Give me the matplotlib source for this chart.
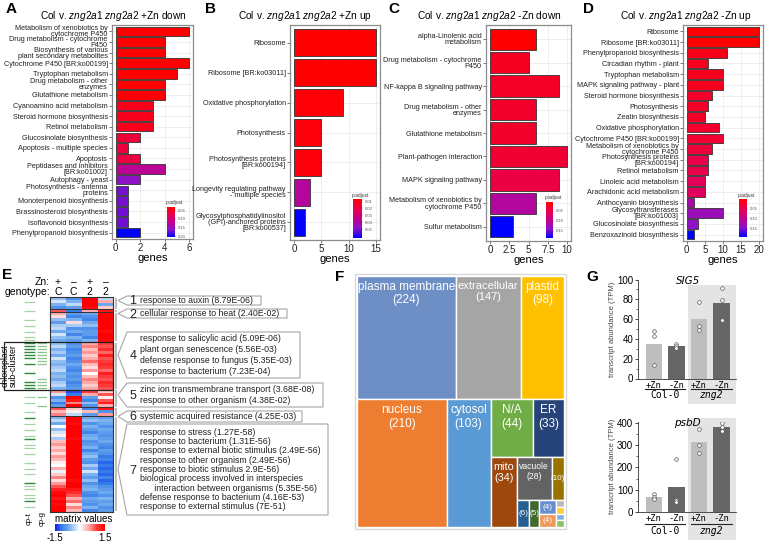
import numpy as np
import matplotlib
matplotlib.use('Agg')
import matplotlib.pyplot as plt
from matplotlib.colors import LinearSegmentedColormap, Normalize
from matplotlib.patches import Rectangle, Polygon
from matplotlib.colorbar import ColorbarBase
from matplotlib.ticker import MultipleLocator

plt.rcParams['font.family'] = ['Liberation Sans', 'DejaVu Sans']
plt.rcParams['mathtext.fontset'] = 'custom'
plt.rcParams['mathtext.rm'] = 'Liberation Sans'
plt.rcParams['mathtext.it'] = 'Liberation Sans:italic'

# ---------------- data: KEGG enrichment (A-D) ----------------
A_labels = ['Metabolism of xenobiotics by\ncytochrome P450', 'Drug metabolism - cytochrome\nP450',
            'Biosynthesis of various\nplant secondary metabolites', 'Cytochrome P450 [BR:ko00199]',
            'Tryptophan metabolism', 'Drug metabolism - other\nenzymes', 'Glutathione metabolism',
            'Cyanoamino acid metabolism', 'Steroid hormone biosynthesis', 'Retinol metabolism',
            'Glucosinolate biosynthesis', 'Apoptosis - multiple species', 'Apoptosis',
            'Peptidases and inhibitors\n[BR:ko01002]', 'Autophagy - yeast',
            'Photosynthesis - antenna\nproteins', 'Monoterpenoid biosynthesis',
            'Brassinosteroid biosynthesis', 'Isoflavonoid biosynthesis', 'Phenylpropanoid biosynthesis']
A_genes = [6, 4, 4, 6, 5, 4, 4, 3, 3, 3, 2, 1, 2, 4, 2, 1, 1, 1, 1, 2]
A_padj = [0.030, 0.030, 0.030, 0.030, 0.031, 0.032, 0.032, 0.045, 0.046, 0.046,
          0.062, 0.066, 0.066, 0.125, 0.160, 0.168, 0.168, 0.170, 0.170, 0.205]

B_labels = ['Ribosome', 'Ribosome [BR:ko03011]', 'Oxidative phosphorylation', 'Photosynthesis',
            'Photosynthesis proteins\n[BR:ko00194]', 'Longevity regulating pathway\n- multiple species',
            'Glycosylphosphatidylinositol\n(GPI)-anchored proteins\n[BR:ko00537]']
B_genes = [15, 15, 9, 5, 5, 3, 2]
B_padj = [0.007, 0.007, 0.008, 0.009, 0.009, 0.038, 0.062]

C_labels = ['alpha-Linolenic acid\nmetabolism', 'Drug metabolism - cytochrome\nP450',
            'NF-kappa B signaling pathway', 'Drug metabolism - other\nenzymes', 'Glutathione metabolism',
            'Plant-pathogen interaction', 'MAPK signaling pathway',
            'Metabolism of xenobiotics by\ncytochrome P450', 'Sulfur metabolism']
C_genes = [6, 5, 9, 6, 6, 10, 9, 6, 3]
C_padj = [0.006, 0.025, 0.028, 0.030, 0.030, 0.035, 0.045, 0.110, 0.186]

D_labels = ['Ribosome', 'Ribosome [BR:ko03011]', 'Phenylpropanoid biosynthesis', 'Circadian rhythm - plant',
            'Tryptophan metabolism', 'MAPK signaling pathway - plant', 'Steroid hormone biosynthesis',
            'Photosynthesis', 'Zeatin biosynthesis', 'Oxidative phosphorylation',
            'Cytochrome P450 [BR:ko00199]', 'Metabolism of xenobiotics by\ncytochrome P450',
            'Photosynthesis proteins\n[BR:ko00194]', 'Retinol metabolism', 'Linoleic acid metabolism',
            'Arachidonic acid metabolism', 'Anthocyanin biosynthesis', 'Glycosyltransferases\n[BR:ko01003]',
            'Glucosinolate biosynthesis', 'Benzoxazinoid biosynthesis']
D_genes = [20, 20, 11, 6, 10, 10, 7, 6, 5, 9, 10, 7, 6, 6, 5, 5, 2, 10, 3, 2]
D_padj = [0.0, 0.0, 0.015, 0.020, 0.020, 0.020, 0.025, 0.025, 0.025, 0.028,
          0.030, 0.035, 0.045, 0.045, 0.055, 0.060, 0.120, 0.130, 0.140, 0.190]

# ---------------- data: heatmap clusters (E) ----------------
clust1 = [[-0.5, -0.9, 1.5, -0.3], [-0.2, -0.6, 1.5, 0.5], [-0.6, -0.3, 1.5, -0.7], [-0.9, -0.8, 1.4, 0.3]]
clust2 = [[0.9, -1.1, 0.5, 1.3]]
clust3 = [[0.5, -0.8, -0.7, 1.5], [0.2, -1.0, -0.9, 1.5], [-0.5, -0.6, -1.0, 1.5], [-0.8, 0.2, -0.7, 1.5],
          [-0.4, -0.4, -0.5, 1.5], [-0.3, -0.9, -0.9, 1.5], [-0.7, -0.7, -0.8, 1.4], [-0.2, -1.0, -0.8, 1.5],
          [-0.5, -0.6, -1.0, 1.5], [-0.7, -0.8, -0.6, 1.4]]
clust4 = [[-0.5, -0.9, 0.5, 1.0], [-0.3, -0.8, 0.7, 0.9], [-0.6, -1.0, 0.4, 1.1], [-0.4, -0.9, 0.6, 0.8],
          [-0.7, -0.8, 0.3, 1.2], [-0.2, -1.0, 0.5, 0.9], [-0.5, -0.9, 0.8, 1.0], [-0.6, -0.7, 0.4, 1.1],
          [-0.4, -0.9, 0.2, 1.0], [-0.3, -1.0, 0.6, 0.8], [-0.6, -0.8, 0.0, 1.2], [-0.5, -0.9, 0.4, 1.0],
          [-0.7, -0.8, 0.7, 0.9], [-0.4, -1.0, 0.5, 1.1], [-0.3, -0.9, 0.3, 1.0], [-0.6, -0.8, 0.5, 0.9]]
clust5 = [[0.6, -1.3, 1.0, 0.3], [-0.2, -1.1, 0.5, 0.9], [-0.9, 1.5, -0.8, 0.1], [-0.6, 1.3, -1.0, 0.9],
          [-1.1, 0.7, -0.5, 1.2], [-0.8, 1.5, -0.9, 0.5]]
clust6 = [[0.9, 0.3, -1.0, 1.3], [0.4, 0.1, 0.4, -0.9], [0.7, -0.3, -0.8, 0.6]]
clust7 = [[-0.6, 1.5, -0.7, -0.8], [-0.3, 1.5, -0.5, -0.6], [-0.7, 1.4, -0.9, -0.7], [0.0, 1.5, -0.6, -0.9],
          [-0.5, 1.5, -0.8, -0.7], [-0.2, 1.5, -1.0, -0.8], [0.1, 1.5, -0.7, -0.9], [-0.4, 1.4, -0.6, -0.8],
          [0.4, 1.5, -0.9, -0.7], [0.6, 1.5, -0.8, -0.9], [0.3, 1.5, -0.6, -1.0], [0.5, 1.5, -1.0, -0.8],
          [0.2, 1.5, -0.7, -0.9], [0.6, 1.5, -0.5, -1.1], [0.4, 1.5, -0.8, -1.0], [0.1, 1.5, -0.9, -1.2],
          [0.0, 1.5, -0.4, -1.1], [0.5, 1.5, -0.7, -1.2], [-0.1, 1.5, -0.2, -1.1], [0.3, 1.5, -0.6, -1.2],
          [0.7, 1.5, -0.8, -1.0], [0.2, 1.4, -0.5, -1.2], [0.6, 1.5, -0.9, -1.1], [0.9, 1.5, -0.7, -0.9],
          [1.2, 1.3, -0.6, -0.8], [1.4, 1.1, -0.9, -0.7], [1.5, 0.9, -1.0, -0.9], [1.3, 0.5, -0.7, -0.6],
          [1.5, 0.8, -0.8, -0.8], [1.4, 0.2, -0.9, -0.7], [1.5, 0.7, -0.6, -0.9], [1.5, 0.4, -1.0, -0.8]]
zn_cols = ['+', '\u2013', '+', '\u2013']
geno_cols = ['C', 'C', '2', '2']

# rows carrying a chloroplast transit peptide (cp-t) / chloroplast GO term (cp-g)
cpt_light = [1, 4, 7, 9, 11, 13, 14, 33, 35, 38, 42, 44, 46, 49, 50, 52, 55, 57, 59, 63, 64, 66, 67, 70]
cpt_dark = [15, 16, 17, 18, 19, 20, 22, 25, 28, 29, 30, 40, 47, 62, 68]
cpg_rows = [15, 16, 17, 18, 19, 20, 21, 22, 27, 28, 29, 30, 33, 36]

go_terms = {
    '1': ['response to auxin (8.79E-06)'],
    '2': ['cellular response to heat (2.40E-02)'],
    '4': ['response to salicylic acid (5.09E-06)', 'plant organ senescence (5.56E-03)',
          'defense response to fungus (5.35E-03)', 'response to bacterium (7.23E-04)'],
    '5': ['zinc ion transmembrane transport (3.68E-08)', 'response to other organism (4.38E-02)'],
    '6': ['systemic acquired resistance (4.25E-03)'],
    '7': ['response to stress (1.27E-58)', 'response to bacterium (1.31E-56)',
          'response to external biotic stimulus (2.49E-56)', 'response to other organism (2.49E-56)',
          'response to biotic stimulus 2.9E-56)', 'biological process involved in interspecies',
          '      interaction between organisms (5.35E-56)', 'defense response to bacterium (4.16E-53)',
          'response to external stimulus (7E-51)'],
}

# ---------------- data: localisation treemap (F) ----------------
loc_labels = ['plasma membrane', 'extracellular', 'plastid', 'nucleus', 'cytosol', 'N/A', 'ER', 'mito',
              'vacuole', '', '', '', '', '', '', '', '', '']
loc_counts = [224, 147, 98, 210, 103, 44, 33, 34, 28, 10, 6, 5, 4, 4, 1, 1, 1, 1]
loc_colors = ['#6D8FC6', '#A5A5A5', '#FFC000', '#ED7D31', '#5B9BD5', '#70AD47', '#264478', '#9E480E',
              '#636363', '#997300', '#255E91', '#43682B', '#698ED0', '#F1975A', '#B7B7B7', '#FFCD33',
              '#7CAFDD', '#8CC168']

# ---------------- data: transcript abundance (G) ----------------
g_groups = ['+Zn', '-Zn', '+Zn', '-Zn']
sig5_tpm = [[48, 43, 14], [35, 33, 31], [77, 53, 49], [91, 79, 59]]
psbd_tpm = [[78, 65, 59], [237, 55, 45], [373, 300, 267], [400, 385, 365]]

W, H = 767, 542
fig = plt.figure(figsize=(W / 100, H / 100), dpi=100)


def px_axes(x0, y0, x1, y1, **kw):
    return fig.add_axes([x0 / W, 1 - y1 / H, (x1 - x0) / W, (y1 - y0) / H], **kw)


def ftext(x, y, s, **kw):
    return fig.text(x / W, 1 - y / H, s, **kw)


back = px_axes(0, 0, W, H, zorder=-1)
back.set_xlim(0, W); back.set_ylim(H, 0); back.axis('off')
front = px_axes(0, 0, W, H, zorder=10)
front.set_xlim(0, W); front.set_ylim(H, 0); front.axis('off')

pcmap = LinearSegmentedColormap.from_list('padj', ['#FF0000', '#E8004E', '#C4008A', '#8C12C6', '#0000FF'])


def bar_panel(box, labels, genes, padj, xticks, xticklabels, cbox, cticks, cfmt):
    ax = px_axes(*box)
    n = len(labels)
    norm = Normalize(min(padj), max(padj))
    ax.barh(np.arange(n), genes, height=0.9, color=pcmap(norm(np.array(padj))),
            edgecolor='#333333', linewidth=0.6, zorder=3)
    xmax = max(genes)
    ax.set_xlim(-0.05 * xmax, 1.05 * xmax)
    ax.set_ylim(n - 0.4, -0.6)
    ax.set_yticks(np.arange(n))
    ax.set_yticklabels(labels, fontsize=5.2, linespacing=0.82, color='#222222')
    ax.set_xticks(xticks)
    ax.set_xticklabels(xticklabels, fontsize=7, color='#222222')
    ax.tick_params(length=2, width=0.5, color='#444444', pad=1)
    ax.grid(True, color='#EBEBEB', lw=0.6)
    ax.set_axisbelow(True)
    for s in ax.spines.values():
        s.set_color('#8C8C8C'); s.set_linewidth(0.9)
    ax.set_xlabel('genes', fontsize=8, labelpad=0)
    cax = px_axes(*cbox)
    cb = ColorbarBase(cax, cmap=pcmap, norm=norm, orientation='vertical')
    cax.invert_yaxis()
    cb.set_ticks(cticks)
    cb.set_ticklabels([cfmt % t for t in cticks])
    cb.outline.set_visible(False)
    cax.tick_params(length=1, width=0.3, labelsize=3, pad=1, colors='#555555')
    ftext(cbox[0] - 1, cbox[1] - 4, 'p.adjust', fontsize=3.5, color='#333333', va='center')
    return ax


bar_panel((112, 25, 193, 239), A_labels, A_genes, A_padj, [0, 2, 4, 6], ['0', '2', '4', '6'],
          (167, 207, 175, 237), [0.05, 0.10, 0.15, 0.20], '%.2f')
bar_panel((290, 25, 380, 240), B_labels, B_genes, B_padj, [0, 5, 10, 15], ['0', '5', '10', '15'],
          (353, 199, 362, 238), [0.01, 0.02, 0.03, 0.04, 0.05], '%.2f')
bar_panel((486, 25, 571, 241), C_labels, C_genes, C_padj, [0, 2.5, 5, 7.5, 10], ['0', '2.5', '5', '7.5', '10'],
          (546, 202, 553, 238), [0.05, 0.10, 0.15], '%.2f')
bar_panel((683, 25, 763, 241), D_labels, D_genes, D_padj, [0, 5, 10, 15, 20], ['0', '5', '10', '15', '20'],
          (739, 199, 747, 237), [0.05, 0.10, 0.15], '%.2f')

titles = [(113, r'Col v. $\it{zng2a1\ zng2a2}$ +Zn down'), (305, r'Col v. $\it{zng2a1\ zng2a2}$ +Zn up'),
          (489, r'Col v. $\it{zng2a1\ zng2a2}$ -Zn down'), (686, r'Col v. $\it{zng2a1\ zng2a2}$ -Zn up')]
for tx, tt in titles:
    ftext(tx, 16, tt, fontsize=7.3, ha='center', va='center')

for lx, ly, letter in [(11, 9, 'A'), (210, 9, 'B'), (394, 9, 'C'), (589, 9, 'D'),
                       (7, 275, 'E'), (340, 277, 'F'), (592, 277, 'G')]:
    ftext(lx, ly, letter, fontsize=11, fontweight='bold', ha='center', va='center')

# ---------------- E: heatmap ----------------
clusters = [clust1, clust2, clust3, clust4, clust5, clust6, clust7]
mat = np.vstack([np.array(c) for c in clusters])
nrow = mat.shape[0]
hm_top, hm_bot, hm_left, hm_right = 297.3, 511.7, 50, 113.3
rowpx = (hm_bot - hm_top) / nrow
hm_cmap = LinearSegmentedColormap.from_list('hm', [(0, '#1515FF'), (0.12, '#2F78E8'), (0.3, '#7DB3F0'),
                                                   (0.5, '#FFFFFF'), (0.7, '#FF9A9A'), (0.85, '#FF3030'),
                                                   (1, '#FF0000')])
axh = px_axes(hm_left, hm_top, hm_right, hm_bot)
axh.imshow(mat, aspect='auto', cmap=hm_cmap, vmin=-1.5, vmax=1.5, interpolation='nearest')
axh.set_xticks([]); axh.set_yticks([])
for s in axh.spines.values():
    s.set_linewidth(0.8); s.set_color('#333333')
bounds = np.cumsum([len(c) for c in clusters])
for b in bounds[:-1]:
    axh.axhline(b - 0.5, color='#333333', lw=0.7)

# gray cluster bars to the right
start = 0
for b in bounds:
    back.add_patch(Rectangle((114.5, hm_top + start * rowpx + 0.6), 2.5, (b - start) * rowpx - 1.2,
                             facecolor='#BDBDBD', edgecolor='none'))
    start = b

# chloroplast sub-cluster box
c4_start, c4_end = bounds[2], bounds[3]
front.add_patch(Rectangle((4, hm_top + c4_start * rowpx), hm_right - 4, (c4_end - c4_start) * rowpx,
                          fill=False, edgecolor='#222222', lw=0.9))
front.text(9, hm_top + (c4_start + c4_end) / 2 * rowpx, 'chloroplast\nsub-cluster', rotation=90,
           fontsize=6.3, ha='center', va='center', linespacing=0.95)

# green marks
axg = px_axes(24, hm_top, 47, hm_bot)
axg.set_xlim(0, 23); axg.set_ylim(nrow, 0); axg.axis('off')
axg.hlines(np.array(cpt_light) + 0.5, 0.3, 10.7, color='#A6D2A6', lw=0.9)
axg.hlines(np.array(cpt_dark) + 0.5, 0.3, 10.7, color='#2F8A3C', lw=1.0)
axg.hlines(np.array(cpg_rows) + 0.5, 13.3, 22.7, color='#8CC58C', lw=0.9)
ftext(29, 519, 'cp-t', rotation=90, fontsize=5.5, ha='center', va='center')
ftext(42, 519, 'cp-g', rotation=90, fontsize=5.5, ha='center', va='center')

# column headers
ftext(50, 282, 'Zn:', fontsize=7.5, ha='right', va='center')
ftext(50, 292, 'genotype:', fontsize=7.5, ha='right', va='center')
colw = (hm_right - hm_left) / 4
for i in range(4):
    cx = hm_left + colw * (i + 0.5)
    ftext(cx, 282, zn_cols[i], fontsize=7.5, ha='center', va='center')
    ftext(cx, 292, geno_cols[i], fontsize=7.5, ha='center', va='center')

# heatmap legend
ftext(55, 519, 'matrix values', fontsize=7, va='center')
cax = px_axes(55, 524, 105, 531)
cbh = ColorbarBase(cax, cmap=hm_cmap, norm=Normalize(-1.5, 1.5), orientation='horizontal')
cbh.outline.set_visible(False)
cbh.set_ticks([-1.5, 1.5])
cbh.set_ticklabels(['-1.5', '1.5'])
cax.tick_params(length=0, labelsize=7, pad=1.5)

# GO callouts
callout_box = {'1': (296, 305, 261), '2': (309, 318, 287), '4': (332, 378, 300),
               '5': (383, 407, 323), '6': (411, 422, 302), '7': (424, 515, 328)}
for key, lines in go_terms.items():
    yt, yb, xr = callout_box[key]
    ym = (yt + yb) / 2
    front.add_patch(Polygon([(118, ym), (127, yt), (xr, yt), (xr, yb), (127, yb)], closed=True,
                            facecolor='white', edgecolor='#A6A6A6', lw=0.8, zorder=1))
    front.text(133, ym + 1, key, fontsize=9, ha='center', va='center', color='#222222', zorder=2)
    sp = 11 if len(lines) <= 4 else 9.3
    y0 = ym - sp * (len(lines) - 1) / 2
    for j, ln in enumerate(lines):
        front.text(140, y0 + j * sp, ln, fontsize=6.3, va='center', color='#222222', zorder=2)

# ---------------- F: treemap ----------------
tm_tree = ('v', [('h', [0, 1, 2]),
                 ('h', [3, 4, ('v', [('h', [5, 6]),
                                     ('h', [7, ('v', [('h', [8, 9]),
                                                      ('h', [10, 11, ('v', [12, 13]),
                                                             ('v', [14, 15, 16, 17])])])])])])])


def node_sum(node):
    if isinstance(node, int):
        return loc_counts[node]
    return sum(node_sum(k) for k in node[1])


def tm_layout(node, x, y, w, h, out):
    kind, kids = node
    tot = node_sum(node)
    pos = 0.0
    for k in kids:
        frac = node_sum(k) / tot
        if kind == 'h':
            r = (x + pos * w, y, frac * w, h)
        else:
            r = (x, y + pos * h, w, frac * h)
        pos += frac
        if isinstance(k, int):
            out[k] = r
        else:
            tm_layout(k, *r, out)


tm_l, tm_t, tm_r, tm_b = 357, 276, 564, 527
back.add_patch(Rectangle((tm_l - 2, tm_t - 2), tm_r - tm_l + 4, tm_b - tm_t + 4, facecolor='none',
                         edgecolor='#D9D9D9', lw=1))
axt = px_axes(tm_l, tm_t, tm_r, tm_b)
axt.set_xlim(0, 1); axt.set_ylim(1, 0); axt.axis('off')
rects = {}
tm_layout(tm_tree, 0, 0, 1, 1, rects)
tm_h = tm_b - tm_t
name_fs = {1: 8.0, 7: 7.8, 8: 6.2}
for i, (x, y, w, h) in rects.items():
    axt.add_patch(Rectangle((x, y), w, h, facecolor=loc_colors[i], edgecolor='white', lw=1))
    if loc_labels[i]:
        fs = name_fs.get(i, 8.5)
        axt.text(x + w / 2, y + 5 / tm_h, loc_labels[i] + '\n(%d)' % loc_counts[i], color='white',
                 fontsize=fs, ha='center', va='top', linespacing=1.15)
    elif loc_counts[i] >= 4:
        axt.text(x + w / 2, y + h / 2, '(%d)' % loc_counts[i], color='white', fontsize=5.8,
                 ha='center', va='center')

# ---------------- G: bar + points ----------------
def g_panel(box, tpm, ylim, ymajor, yminor, title, under_y, lab_y, shade):
    ax = px_axes(*box)
    ax.patch.set_alpha(0)
    means = [np.mean(v) for v in tpm]
    ax.bar(np.arange(4), means, width=0.72, color=['#BEBEBE', '#666666', '#BEBEBE', '#666666'], zorder=2)
    for i, v in enumerate(tpm):
        ax.scatter([i] * len(v), v, s=7, facecolor='white', edgecolor='#555555', lw=0.5, zorder=3)
    ax.set_xlim(-0.7, 3.64)
    ax.set_ylim(*ylim)
    for s in ['top', 'right']:
        ax.spines[s].set_visible(False)
    for s in ['left', 'bottom']:
        ax.spines[s].set_color('#333333'); ax.spines[s].set_linewidth(0.6)
    ax.yaxis.set_major_locator(MultipleLocator(ymajor))
    ax.yaxis.set_minor_locator(MultipleLocator(yminor))
    ax.tick_params(axis='y', which='major', labelsize=7, length=2.5, width=0.5, pad=1)
    ax.tick_params(axis='y', which='minor', length=1.5, width=0.4)
    ax.set_xticks(np.arange(4))
    ax.set_xticklabels(g_groups, family='DejaVu Sans Mono', fontsize=6.3)
    ax.tick_params(axis='x', length=0, pad=1.5)
    ax.text(1.5, ylim[1] * 0.985, title, style='italic', fontsize=7.5, ha='center', va='center',
            family='DejaVu Sans')
    x0, y0, x1, y1 = box
    back.add_patch(Rectangle((688, shade[0]), 736 - 688, shade[1] - shade[0], facecolor='#E4E4E4',
                             edgecolor='none'))
    front.plot([645, 685], [under_y, under_y], color='#222222', lw=0.8)
    front.plot([691, 732], [under_y, under_y], color='#222222', lw=0.8)
    ftext(665, lab_y, 'Col-0', family='DejaVu Sans Mono', fontsize=7, ha='center', va='center')
    ftext(711, lab_y, 'zng2', family='DejaVu Sans Mono', style='italic', fontsize=7, ha='center',
          va='center')
    ftext(613, (y0 + y1) / 2, 'transcript abundance (TPM)', rotation=90, fontsize=5.5, color='#444444',
          ha='center', va='center')


g_panel((638, 279.5, 736, 378.5), sig5_tpm, (0, 100), 20, 10, 'SIG5', 389, 395.5, (285, 404))
g_panel((638, 421.7, 736, 511.7), psbd_tpm, (0, 407), 100, 50, 'psbD', 523.5, 531, (418, 540))

fig.savefig('out.png', dpi=100)
